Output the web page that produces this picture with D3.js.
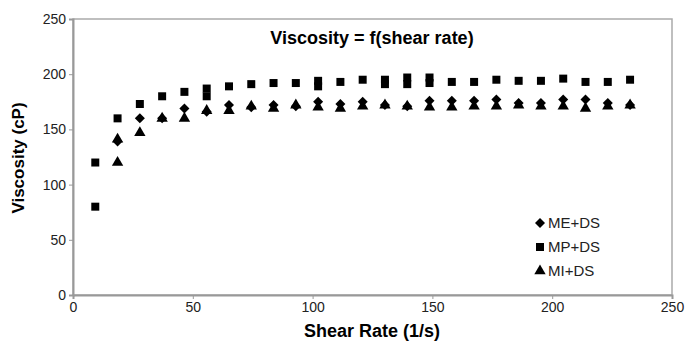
<!DOCTYPE html>
<html>
<head>
<meta charset="utf-8">
<script src="https://cdn.jsdelivr.net/npm/d3@7"></script>
<style>
  body { margin: 0; background: #fff; }
  svg text { font-family: "Liberation Sans", Arial, sans-serif; }
  .axis text { font-size: 14px; fill: #222; }
  .axis path, .axis line { stroke: #999; }
</style>
</head>
<body>
<div id="chart"></div>
<script>
// Data
var shearRate = [9.3, 18.6, 27.9, 37.2, 46.5, 55.8, 65.1, 74.4, 83.7, 93.0, 102.3, 111.6, 120.9,
                 130.2, 139.5, 148.8, 158.1, 167.4, 176.7, 186.0, 195.3, 204.6, 213.9, 223.2, 232.5];
var meDS = [null, 139, 160, 160, 169, 166, 172, 170, 172, 171, 175, 173, 175,
            172, 171, 176, 176, 176, 177, 174, 174, 177, 177, 174, 172];
var mpDS = [120, 160, 173, 180, 184, 187, 189, 191, 192, 192, 194, 193, 195,
            195, 197, 197, 193, 193, 195, 194, 194, 196, 193, 193, 195];
var miDS = [null, 141, 147, 160, 160, 167, 167, 171, 169, 172, 170, 169, 171,
            172, 171, 170, 170, 171, 171, 172, 171, 171, 169, 171, 172];
// repeated readings at some shear rates
var mpRepeatRate = [9.3, 55.8, 102.3, 130.2, 139.5, 148.8];
var mpRepeat = [80, 180, 189, 191, 191, 192];
var miRepeatRate = [18.6];
var miRepeat = [120];

var xTicks = [0, 50, 100, 150, 200, 250];
var yTicks = [0, 50, 100, 150, 200, 250];
var seriesNames = ["ME+DS", "MP+DS", "MI+DS"];

// Variables
var chart_width = 688;
var chart_height = 343;
var plot_left = 73, plot_right = 672, plot_top = 19, plot_bottom = 295;

var svg = d3.select("#chart")
  .append("svg")
  .attr("width", chart_width)
  .attr("height", chart_height);

var x_scale = d3.scaleLinear().domain([0, 250]).range([plot_left, plot_right]);
var y_scale = d3.scaleLinear().domain([0, 250]).range([plot_bottom, plot_top]);

// frame
svg.append("rect")
  .attr("x", plot_left).attr("y", plot_top)
  .attr("width", plot_right - plot_left).attr("height", plot_bottom - plot_top)
  .attr("fill", "none").attr("stroke", "#aaa").attr("stroke-width", 1.5);

// axes
svg.append("g")
  .attr("class", "axis")
  .attr("transform", "translate(0," + plot_bottom + ")")
  .call(d3.axisBottom(x_scale).tickValues(xTicks).tickSize(4).tickPadding(3))
  .call(function(g){ g.select(".domain").attr("stroke-width", 2); });

svg.append("g")
  .attr("class", "axis")
  .attr("transform", "translate(" + plot_left + ",0)")
  .call(d3.axisLeft(y_scale).tickValues(yTicks).tickSize(4).tickPadding(3))
  .call(function(g){ g.select(".domain").attr("stroke-width", 2); });

// titles
svg.append("text")
  .attr("x", 372).attr("y", 44)
  .attr("text-anchor", "middle")
  .style("font-size", "18px").style("font-weight", "bold")
  .text("Viscosity = f(shear rate)");

svg.append("text")
  .attr("x", 372).attr("y", 337)
  .attr("text-anchor", "middle")
  .style("font-size", "18px").style("font-weight", "bold")
  .text("Shear Rate (1/s)");

svg.append("text")
  .attr("transform", "translate(24,158) rotate(-90)")
  .attr("text-anchor", "middle")
  .style("font-size", "17px").style("font-weight", "bold")
  .text("Viscosity (cP)");

// symbols
var diamond = d3.symbol().type(d3.symbolDiamond2).size(64);
var square = d3.symbol().type(d3.symbolSquare).size(64);
var triangle = d3.symbol().type(d3.symbolTriangle).size(56);

function draw_points(rates, values, sym) {
  var pts = [];
  rates.forEach(function(r, i){
    if (values[i] != null) pts.push([r, values[i]]);
  });
  svg.append("g").selectAll("path")
    .data(pts)
    .enter()
    .append("path")
    .attr("d", sym)
    .attr("fill", "#000")
    .attr("transform", function(d){
      return "translate(" + x_scale(d[0]) + "," + y_scale(d[1]) + ")";
    });
}

draw_points(shearRate, meDS, diamond);
draw_points(shearRate, mpDS, square);
draw_points(mpRepeatRate, mpRepeat, square);
draw_points(shearRate, miDS, triangle);
draw_points(miRepeatRate, miRepeat, triangle);

// legend
var legendSyms = [diamond, square, triangle];
var legend = svg.append("g").attr("transform", "translate(540,223)");
seriesNames.forEach(function(name, i){
  legend.append("path")
    .attr("d", legendSyms[i])
    .attr("fill", "#000")
    .attr("transform", "translate(0," + (i * 24) + ")");
  legend.append("text")
    .attr("x", 8).attr("y", i * 24 + 5)
    .style("font-size", "15px").attr("fill", "#222")
    .text(name);
});
</script>
</body>
</html>
